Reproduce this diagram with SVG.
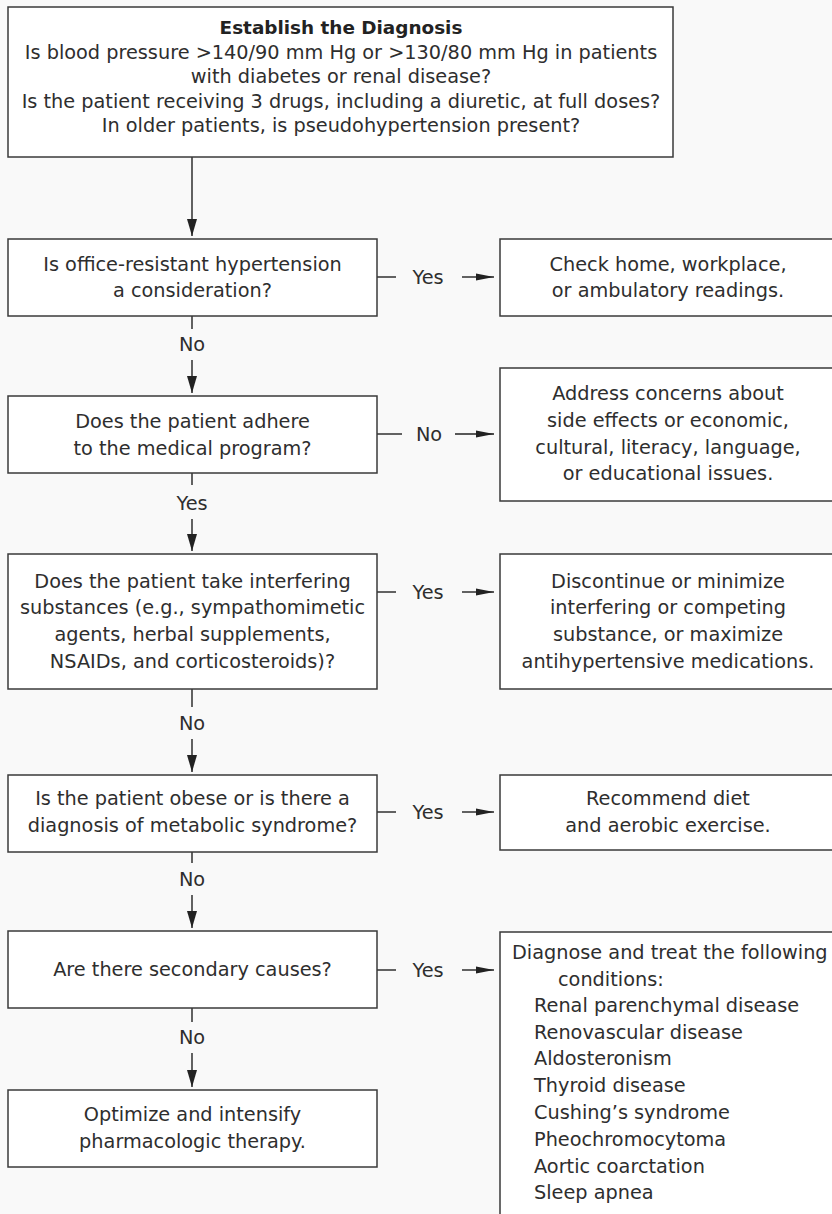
<svg xmlns="http://www.w3.org/2000/svg" width="832" height="1214" viewBox="0 0 832 1214">
<style>
.box{fill:#ffffff;stroke:#3a3a3a;stroke-width:1.5}
.t{font-family:"DejaVu Sans","Liberation Sans",sans-serif;font-size:19.3px;fill:#2e2e2e;text-anchor:middle}
.tl{font-family:"DejaVu Sans","Liberation Sans",sans-serif;font-size:19.3px;fill:#2e2e2e;text-anchor:start}
.title{font-family:"DejaVu Sans","Liberation Sans",sans-serif;font-size:18.4px;font-weight:bold;fill:#222;text-anchor:middle}
.c{stroke:#222;stroke-width:1.4;fill:none}
.ca{stroke:#222;stroke-width:1.4;fill:none;marker-end:url(#ah)}
.cv{stroke:#222;stroke-width:1.4;fill:none;marker-end:url(#av)}
</style>
<defs>
<marker id="ah" markerUnits="userSpaceOnUse" markerWidth="20" markerHeight="10" refX="18" refY="4" orient="auto">
<path d="M0,0.5 L18,4 L0,7.5 z" fill="#222"/>
</marker>
<marker id="av" markerUnits="userSpaceOnUse" markerWidth="20" markerHeight="12" refX="17" refY="5" orient="auto">
<path d="M0,0 L17,5 L0,10 z" fill="#222"/>
</marker>
</defs>
<rect x="0" y="0" width="832" height="1214" fill="#f9f9f9"/>

<g id="connectors">
<line class="cv" x1="192" y1="157" x2="192" y2="236"/>
<line class="c" x1="192" y1="316" x2="192" y2="329"/>
<line class="cv" x1="192" y1="360" x2="192" y2="393"/>
<line class="c" x1="192" y1="473" x2="192" y2="485"/>
<line class="cv" x1="192" y1="519" x2="192" y2="551"/>
<line class="c" x1="192" y1="689" x2="192" y2="707"/>
<line class="cv" x1="192" y1="739" x2="192" y2="772"/>
<line class="c" x1="192" y1="852" x2="192" y2="863"/>
<line class="cv" x1="192" y1="895" x2="192" y2="928"/>
<line class="c" x1="192" y1="1008" x2="192" y2="1022"/>
<line class="cv" x1="192" y1="1053" x2="192" y2="1087"/>
<text class="t" x="192" y="351">No</text>
<text class="t" x="192" y="510">Yes</text>
<text class="t" x="192" y="730">No</text>
<text class="t" x="192" y="886">No</text>
<text class="t" x="192" y="1044">No</text>

<line class="c" x1="377" y1="277" x2="396" y2="277"/>
<line class="ca" x1="462" y1="277" x2="494" y2="277"/>
<text class="t" x="428" y="284">Yes</text>
<line class="c" x1="377" y1="434" x2="402" y2="434"/>
<line class="ca" x1="455" y1="434" x2="494" y2="434"/>
<text class="t" x="429" y="441">No</text>
<line class="c" x1="377" y1="592" x2="396" y2="592"/>
<line class="ca" x1="462" y1="592" x2="494" y2="592"/>
<text class="t" x="428" y="599">Yes</text>
<line class="c" x1="377" y1="812" x2="396" y2="812"/>
<line class="ca" x1="462" y1="812" x2="494" y2="812"/>
<text class="t" x="428" y="819">Yes</text>
<line class="c" x1="377" y1="970" x2="396" y2="970"/>
<line class="ca" x1="462" y1="970" x2="494" y2="970"/>
<text class="t" x="428" y="977">Yes</text>
</g>

<g id="diagnosis">
<rect class="box" x="8" y="7" width="665" height="150"/>
<text class="title" x="341" y="34">Establish the Diagnosis</text>
<text class="t" x="341" y="59">Is blood pressure &gt;140/90 mm Hg or &gt;130/80 mm Hg in patients</text>
<text class="t" x="341" y="83">with diabetes or renal disease?</text>
<text class="t" x="341" y="108">Is the patient receiving 3 drugs, including a diuretic, at full doses?</text>
<text class="t" x="341" y="132">In older patients, is pseudohypertension present?</text>
</g>

<g id="office">
<rect class="box" x="8" y="239" width="369" height="77"/>
<text class="t" x="192.5" y="271">Is office-resistant hypertension</text>
<text class="t" x="192.5" y="297">a consideration?</text>
</g>
<g id="check-home">
<rect class="box" x="500" y="239" width="336" height="77"/>
<text class="t" x="668" y="271">Check home, workplace,</text>
<text class="t" x="668" y="297">or ambulatory readings.</text>
</g>

<g id="adhere">
<rect class="box" x="8" y="396" width="369" height="77"/>
<text class="t" x="192.5" y="428">Does the patient adhere</text>
<text class="t" x="192.5" y="455">to the medical program?</text>
</g>
<g id="address">
<rect class="box" x="500" y="368" width="336" height="133"/>
<text class="t" x="668" y="400">Address concerns about</text>
<text class="t" x="668" y="427">side effects or economic,</text>
<text class="t" x="668" y="454">cultural, literacy, language,</text>
<text class="t" x="668" y="480">or educational issues.</text>
</g>

<g id="interfering">
<rect class="box" x="8" y="554" width="369" height="135"/>
<text class="t" x="192.5" y="588">Does the patient take interfering</text>
<text class="t" x="192.5" y="614">substances (e.g., sympathomimetic</text>
<text class="t" x="192.5" y="641">agents, herbal supplements,</text>
<text class="t" x="192.5" y="668">NSAIDs, and corticosteroids)?</text>
</g>
<g id="discontinue">
<rect class="box" x="500" y="554" width="336" height="135"/>
<text class="t" x="668" y="588">Discontinue or minimize</text>
<text class="t" x="668" y="614">interfering or competing</text>
<text class="t" x="668" y="641">substance, or maximize</text>
<text class="t" x="668" y="668">antihypertensive medications.</text>
</g>

<g id="obese">
<rect class="box" x="8" y="775" width="369" height="77"/>
<text class="t" x="192.5" y="805">Is the patient obese or is there a</text>
<text class="t" x="192.5" y="832">diagnosis of metabolic syndrome?</text>
</g>
<g id="diet">
<rect class="box" x="500" y="775" width="336" height="75"/>
<text class="t" x="668" y="805">Recommend diet</text>
<text class="t" x="668" y="832">and aerobic exercise.</text>
</g>

<g id="secondary">
<rect class="box" x="8" y="931" width="369" height="77"/>
<text class="t" x="192.5" y="976">Are there secondary causes?</text>
</g>
<g id="conditions">
<rect class="box" x="500" y="932" width="336" height="290"/>
<text class="tl" x="512" y="959">Diagnose and treat the following</text>
<text class="tl" x="558" y="986">conditions:</text>
<text class="tl" x="534" y="1012">Renal parenchymal disease</text>
<text class="tl" x="534" y="1039">Renovascular disease</text>
<text class="tl" x="534" y="1065">Aldosteronism</text>
<text class="tl" x="534" y="1092">Thyroid disease</text>
<text class="tl" x="534" y="1119">Cushing’s syndrome</text>
<text class="tl" x="534" y="1146">Pheochromocytoma</text>
<text class="tl" x="534" y="1173">Aortic coarctation</text>
<text class="tl" x="534" y="1199">Sleep apnea</text>
</g>

<g id="optimize">
<rect class="box" x="8" y="1090" width="369" height="77"/>
<text class="t" x="192.5" y="1121">Optimize and intensify</text>
<text class="t" x="192.5" y="1148">pharmacologic therapy.</text>
</g>
</svg>
